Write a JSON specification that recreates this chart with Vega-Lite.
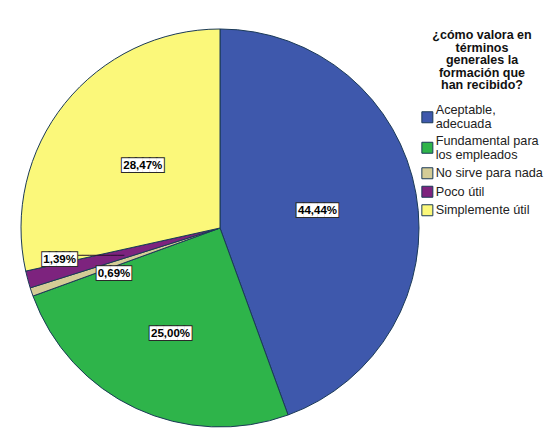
{
  "$schema": "https://vega.github.io/schema/vega-lite/v6.json",
  "width": 398,
  "height": 398,
  "autosize": {"type": "none"},
  "padding": {"left": 21, "top": 29, "right": 132, "bottom": 12},
  "background": "white",
  "config": {"view": {"stroke": null}, "font": "Liberation Sans"},
  "data": {"values": [
    {"cat": "Aceptable, adecuada", "pct": 44.44, "label": "44,44%"},
    {"cat": "Fundamental para los empleados", "pct": 25.00, "label": "25,00%"},
    {"cat": "No sirve para nada", "pct": 0.69, "label": "0,69%"},
    {"cat": "Poco útil", "pct": 1.39, "label": "1,39%"},
    {"cat": "Simplemente útil", "pct": 28.47, "label": "28,47%"}
  ]},
  "encoding": {
    "theta": {"field": "pct", "type": "quantitative", "stack": true},
    "detail": {"field": "cat", "type": "nominal"},
    "order": {"field": "cat", "type": "ordinal", "sort": "ascending"}
  },
  "layer": [
    {
      "mark": {"type": "arc", "stroke": "#1b3a57", "strokeWidth": 1},
      "encoding": {
        "color": {
          "field": "cat", "type": "nominal",
          "scale": {
            "domain": ["Aceptable, adecuada", "Fundamental para los empleados", "No sirve para nada", "Poco útil", "Simplemente útil"],
            "range": ["#3e58ac", "#2eb44a", "#d4cc96", "#7d237e", "#fbf87a"]
          },
          "legend": {
            "title": ["¿cómo valora en", "términos", "generales la", "formación que", "han recibido?"],
            "titleFont": "Liberation Sans", "titleFontSize": 12.5, "titleFontWeight": "bold", "titleColor": "#111111",
            "titleAnchor": "middle", "titleAlign": "center", "titleLineHeight": 12.6, "titlePadding": 19,
            "labelFont": "Liberation Sans", "labelFontSize": 12.7, "labelColor": "#222222",
            "labelExpr": "datum.label == 'Aceptable, adecuada' ? ['Aceptable,', 'adecuada'] : datum.label == 'Fundamental para los empleados' ? ['Fundamental para', 'los empleados'] : datum.label",
            "symbolType": "square", "symbolSize": 121, "symbolStrokeColor": "#1b3a57", "symbolStrokeWidth": 1,
            "labelOffset": 2, "rowPadding": 2.5, "offset": 2, "padding": 0, "labelLimit": 200,
            "encode": {
              "labels": {
                "update": {
                  "lineHeight": {"value": 14},
                  "dy": {"signal": "datum.label === 'Aceptable, adecuada' || datum.label === 'Fundamental para los empleados' ? -7 : 0"}
                }
              }
            }
          }
        }
      }
    },
    {
      "mark": {"type": "text", "radius": 99, "font": "DejaVu Sans Mono", "fontSize": 11.5, "fill": "#2a2a2a", "stroke": "#2a2a2a", "strokeWidth": 2, "align": "center", "baseline": "middle"},
      "encoding": {"text": {"condition": {"test": "datum.cat === 'Aceptable, adecuada' || datum.cat === 'Simplemente útil'", "value": "██████"}, "value": ""}}
    },
    {
      "mark": {"type": "text", "radius": 99, "font": "DejaVu Sans Mono", "fontSize": 11.5, "fill": "#ffffff", "align": "center", "baseline": "middle"},
      "encoding": {"text": {"condition": {"test": "datum.cat === 'Aceptable, adecuada' || datum.cat === 'Simplemente útil'", "value": "██████"}, "value": ""}}
    },
    {
      "mark": {"type": "text", "radius": 99, "font": "Liberation Sans", "fontSize": 11.5, "fontWeight": "bold", "fill": "#000000", "align": "center", "baseline": "middle"},
      "encoding": {"text": {"condition": {"test": "datum.cat === 'Aceptable, adecuada' || datum.cat === 'Simplemente útil'", "field": "label"}, "value": ""}}
    },
    {
      "mark": {"type": "text", "radius": 117, "font": "DejaVu Sans Mono", "fontSize": 11.5, "fill": "#2a2a2a", "stroke": "#2a2a2a", "strokeWidth": 2, "align": "center", "baseline": "middle"},
      "encoding": {"text": {"condition": {"test": "datum.cat === 'Fundamental para los empleados'", "value": "██████"}, "value": ""}}
    },
    {
      "mark": {"type": "text", "radius": 117, "font": "DejaVu Sans Mono", "fontSize": 11.5, "fill": "#ffffff", "align": "center", "baseline": "middle"},
      "encoding": {"text": {"condition": {"test": "datum.cat === 'Fundamental para los empleados'", "value": "██████"}, "value": ""}}
    },
    {
      "mark": {"type": "text", "radius": 117, "font": "Liberation Sans", "fontSize": 11.5, "fontWeight": "bold", "fill": "#000000", "align": "center", "baseline": "middle"},
      "encoding": {"text": {"condition": {"test": "datum.cat === 'Fundamental para los empleados'", "field": "label"}, "value": ""}}
    },
    {
      "mark": {"type": "text", "radius": 112, "dy": 10, "font": "DejaVu Sans Mono", "fontSize": 11.5, "fill": "#2a2a2a", "stroke": "#2a2a2a", "strokeWidth": 2, "align": "center", "baseline": "middle"},
      "encoding": {"text": {"condition": {"test": "datum.cat === 'No sirve para nada'", "value": "█████"}, "value": ""}}
    },
    {
      "mark": {"type": "text", "radius": 112, "dy": 10, "font": "DejaVu Sans Mono", "fontSize": 11.5, "fill": "#ffffff", "align": "center", "baseline": "middle"},
      "encoding": {"text": {"condition": {"test": "datum.cat === 'No sirve para nada'", "value": "█████"}, "value": ""}}
    },
    {
      "mark": {"type": "text", "radius": 112, "dy": 10, "font": "Liberation Sans", "fontSize": 11.5, "fontWeight": "bold", "fill": "#000000", "align": "center", "baseline": "middle"},
      "encoding": {"text": {"condition": {"test": "datum.cat === 'No sirve para nada'", "field": "label"}, "value": ""}}
    },
    {
      "mark": {"type": "text", "radius": 166, "dy": -15, "dx": 16, "font": "DejaVu Sans Mono", "fontSize": 11.5, "fill": "#2a1030", "align": "left", "baseline": "middle"},
      "encoding": {"text": {"condition": {"test": "datum.cat === 'Poco útil'", "value": "───────"}, "value": ""}}
    },
    {
      "mark": {"type": "text", "radius": 166, "dy": -11, "font": "DejaVu Sans Mono", "fontSize": 11.5, "fill": "#2a2a2a", "stroke": "#2a2a2a", "strokeWidth": 2, "align": "center", "baseline": "middle"},
      "encoding": {"text": {"condition": {"test": "datum.cat === 'Poco útil'", "value": "█████"}, "value": ""}}
    },
    {
      "mark": {"type": "text", "radius": 166, "dy": -11, "font": "DejaVu Sans Mono", "fontSize": 11.5, "fill": "#ffffff", "align": "center", "baseline": "middle"},
      "encoding": {"text": {"condition": {"test": "datum.cat === 'Poco útil'", "value": "█████"}, "value": ""}}
    },
    {
      "mark": {"type": "text", "radius": 166, "dy": -11, "font": "Liberation Sans", "fontSize": 11.5, "fontWeight": "bold", "fill": "#000000", "align": "center", "baseline": "middle"},
      "encoding": {"text": {"condition": {"test": "datum.cat === 'Poco útil'", "field": "label"}, "value": ""}}
    }
  ]
}
